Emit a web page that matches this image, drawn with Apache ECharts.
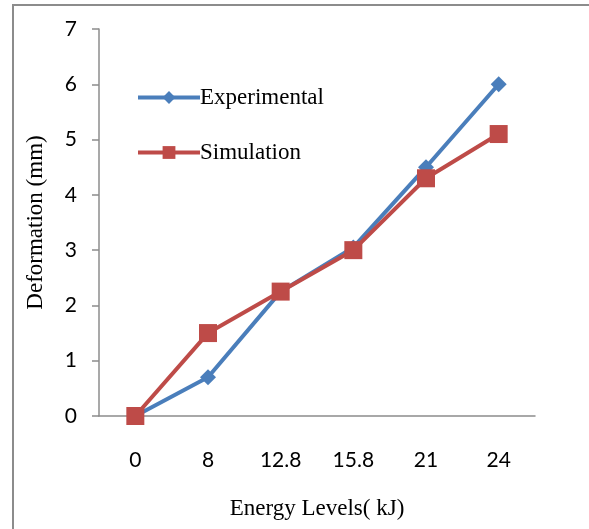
<!DOCTYPE html>
<html>
<head>
<meta charset="utf-8">
<script src="https://cdn.jsdelivr.net/npm/echarts@6/dist/echarts.min.js"></script>
<style>
  html, body { margin: 0; padding: 0; background: #fff; }
  #chart { width: 589px; height: 529px; }
</style>
</head>
<body>
<div id="chart"></div>
<script>
// 能量等级（横轴类目）
const energyLevels = ['0', '8', '12.8', '15.8', '21', '24'];
// 实验值与仿真值（mm）
const experimental = [0, 0.7, 2.25, 3.05, 4.5, 6];
const simulation = [0, 1.5, 2.25, 3.0, 4.3, 5.1];

const myChart = echarts.init(document.getElementById('chart'));

const option = {
  backgroundColor: '#fff',
  animation: false,
  // 外框
  graphic: [{
    type: 'rect',
    shape: { x: 13, y: 5, width: 600, height: 560 },
    style: { fill: 'none', stroke: '#8c8c8c', lineWidth: 2 },
  }],
  grid: { left: 99, right: 54, top: 29, bottom: 113 },
  legend: {
    orient: 'vertical',
    left: 131,
    top: 81,
    itemWidth: 62,
    itemHeight: 16,
    itemGap: 32,
    itemStyle: { borderWidth: 0 },
    lineStyle: { width: 4 },
    textStyle: { fontFamily: 'Liberation Serif', fontSize: 23, color: '#000', padding: [0, 0, 0, -5] },
    data: ['Experimental', 'Simulation'],
  },
  xAxis: {
    type: 'category',
    data: energyLevels,
    boundaryGap: true,
    name: 'Energy Levels( kJ)',
    nameLocation: 'middle',
    nameGap: 81,
    nameTextStyle: { fontFamily: 'Liberation Serif', fontSize: 23, color: '#000' },
    axisLine: { lineStyle: { color: '#8c8c8c', width: 1.5 } },
    axisTick: { show: false },
    axisLabel: { fontFamily: 'Lato', fontSize: 21, color: '#000', margin: 34 },
  },
  yAxis: {
    type: 'value',
    min: 0,
    max: 7,
    interval: 1,
    name: 'Deformation (mm)',
    nameLocation: 'middle',
    nameGap: 52,
    nameRotate: 90,
    nameTextStyle: { fontFamily: 'Liberation Serif', fontSize: 23, color: '#000' },
    axisLine: { show: true, lineStyle: { color: '#8c8c8c', width: 1.5 } },
    axisTick: { show: true, inside: false, length: 7, lineStyle: { color: '#8c8c8c', width: 1.5 } },
    splitLine: { show: false },
    axisLabel: { fontFamily: 'Lato', fontSize: 21, color: '#000', margin: 22 },
  },
  series: [
    {
      name: 'Experimental',
      type: 'line',
      data: experimental,
      symbol: 'diamond',
      symbolSize: 16,
      lineStyle: { color: '#4a7ebb', width: 4 },
      itemStyle: { color: '#4a7ebb' },
      z: 2,
    },
    {
      name: 'Simulation',
      type: 'line',
      data: simulation,
      symbol: 'rect',
      symbolSize: 18,
      lineStyle: { color: '#be4b48', width: 4 },
      itemStyle: { color: '#be4b48' },
      z: 3,
    },
  ],
};

myChart.setOption(option);
</script>
</body>
</html>
